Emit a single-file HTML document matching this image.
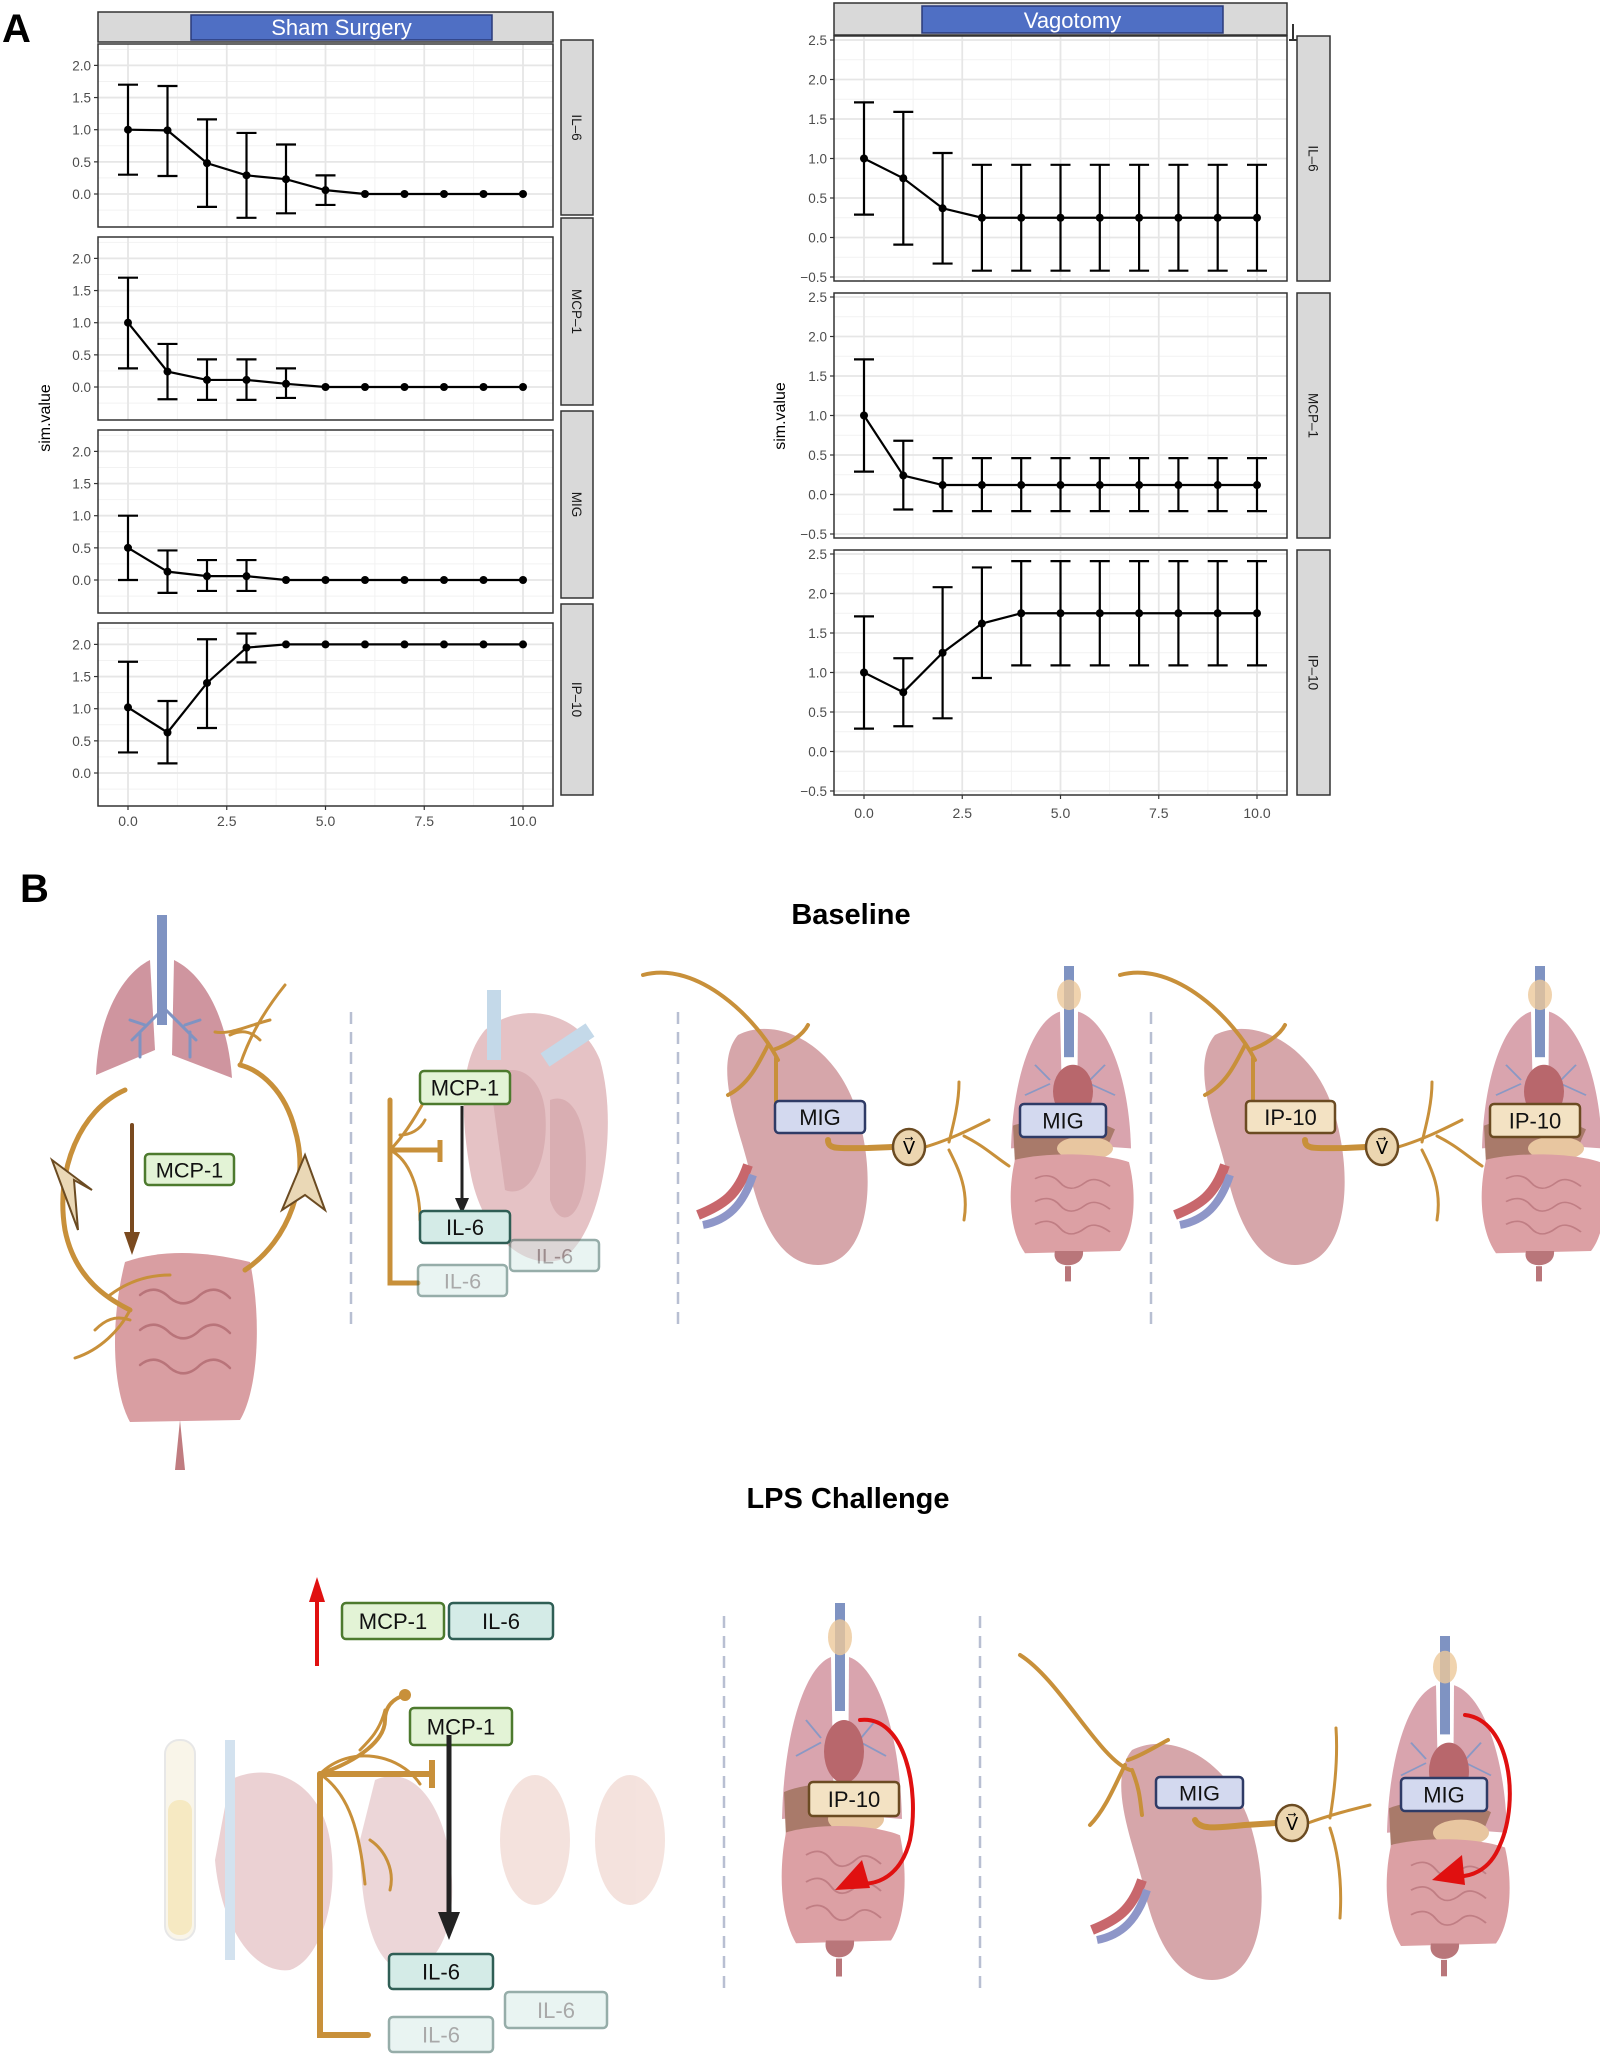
<!DOCTYPE html>
<html><head><meta charset="utf-8">
<style>
html,body{margin:0;padding:0;background:#fff;}
svg{display:block;}
text{font-family:"Liberation Sans",sans-serif;}
</style></head>
<body>
<svg id="s" width="1600" height="2060" viewBox="0 0 1600 2060" xmlns="http://www.w3.org/2000/svg">
<defs>
  <g id="torso">
    <rect x="59" y="0" width="10" height="120" fill="#7f93c2"/>
    <ellipse cx="64" cy="38" rx="12" ry="20" fill="#ecc89a" opacity="0.8"/>
    <path d="M55 60 C30 70 8 140 6 240 L58 235 Z" fill="#d9a4ae"/>
    <path d="M73 60 C100 70 124 140 126 240 L72 235 Z" fill="#d9a4ae"/>
    <path d="M30 130 l15 20 M20 170 l25 -15 M100 130 l-15 20 M110 170 l-25 -15" stroke="#8a98c4" stroke-width="2" fill="none"/>
    <ellipse cx="68" cy="165" rx="20" ry="35" fill="#b8676c"/>
    <path d="M8 210 C40 195 90 200 110 215 L100 245 L10 260 Z" fill="#a97a6a"/>
    <ellipse cx="80" cy="240" rx="28" ry="16" fill="#e8c6a0"/>
    <path d="M10 255 C40 245 95 245 124 258 C132 300 130 350 115 375 L20 378 C5 350 2 300 10 255 Z" fill="#dca0a4"/>
    <path d="M30 280 q15 -10 25 5 q10 15 25 0 q10 -10 25 5 M30 310 q15 -10 25 5 q10 15 25 0 q10 -10 25 5 M30 340 q15 -10 25 5 q10 15 25 0 q10 -10 25 5" stroke="#c07e84" stroke-width="2" fill="none"/>
    <path d="M50 375 C45 400 80 400 78 375 Z" fill="#b9767a"/>
    <rect x="60" y="395" width="6" height="20" fill="#b9767a"/>
  </g>
  <g id="spleen">
    <path d="M20 10 C60 -10 120 20 140 90 C160 160 150 240 100 240 C60 240 40 190 30 140 C20 100 -5 40 20 10 Z" fill="#d6a6aa"/>
    <path d="M30 140 C20 170 5 180 -20 190" stroke="#c8676c" stroke-width="10" fill="none"/>
    <path d="M35 150 C25 180 10 195 -15 200" stroke="#8e96c8" stroke-width="8" fill="none"/>
  </g>
</defs>
<g id="chart"></g>
<g id="diagram"></g>
</svg>
<script>
let out="";
function L(x1,y1,x2,y2,st,w){out+=`<line x1="${x1}" y1="${y1}" x2="${x2}" y2="${y2}" stroke="${st}" stroke-width="${w}"/>`;}
function T(x,y,t,sz,anchor,extra){out+=`<text x="${x}" y="${y}" font-size="${sz}" text-anchor="${anchor||'start'}" ${extra||''}>${t}</text>`;}
function R(x,y,w,h,f,st,sw,extra){out+=`<rect x="${x}" y="${y}" width="${w}" height="${h}" fill="${f}" stroke="${st||'none'}" stroke-width="${sw||0}" ${extra||''}/>`;}

function facet(cfg){
  const {x0,x1,panels,xv0,xs,ticks,yUnit,zeroOff,labels,data,stripX0,stripX1,title,bx0,bx1,tTop,tBot,xlabY,ylab,strips} = cfg;
  R(x0,tTop,x1-x0,tBot-tTop,"#d9d9d9","#333",1.5);
  R(bx0,tTop+3,bx1-bx0,tBot-tTop-5,"#4f6fc4","#2a3a7a",1.5);
  T((bx0+bx1)/2,tBot-7,title,22,"middle",'fill="#fff"');
  panels.forEach((p,i)=>{
    const [T0,B0]=p;
    R(x0,T0,x1-x0,B0-T0,"#fff");
    const yz=T0+zeroOff;
    const ym=v=>yz-v*yUnit;
    for(let v=-0.75;v<=2.75;v+=0.5){const y=ym(v); if(y>T0&&y<B0) L(x0,y,x1,y,"#f2f2f2",1);}
    for(let v=-1.25;v<=11.25;v+=2.5){const x=xv0+v*xs; if(x>x0&&x<x1) L(x,T0,x,B0,"#f2f2f2",1);}
    ticks.forEach(v=>{const y=ym(v); L(x0,y,x1,y,"#e6e6e6",1.8);});
    [0,2.5,5,7.5,10].forEach(v=>{const x=xv0+v*xs; L(x,T0,x,B0,"#e6e6e6",1.8);});
    ticks.forEach(v=>{const y=ym(v); L(x0-4,y,x0,y,"#333",1.2); T(x0-7,y+5,(v<0?"\u22120.5":v.toFixed(1)),13.5,"end",'fill="#4d4d4d"');});
    const d=data[i];
    let pts=d.m.map((v,j)=>[xv0+j*xs,ym(v)]);
    out+=`<polyline points="${pts.map(p=>p.join(',')).join(' ')}" fill="none" stroke="#000" stroke-width="2.2"/>`;
    d.e.forEach((e,j)=>{ if(!e) return; const x=xv0+j*xs; L(x,ym(e[0]),x,ym(e[1]),"#000",2.2); L(x-10,ym(e[0]),x+10,ym(e[0]),"#000",2.2); L(x-10,ym(e[1]),x+10,ym(e[1]),"#000",2.2);});
    pts.forEach(p=>{out+=`<circle cx="${p[0]}" cy="${p[1]}" r="4" fill="#000"/>`;});
    R(x0,T0,x1-x0,B0-T0,"none","#333",1.5);
    const [s0,s1]=strips[i];
    R(stripX0,s0,stripX1-stripX0,s1-s0,"#d9d9d9","#333",1.5);
    const cy=(s0+s1)/2, cx=stripX0+(stripX1-stripX0)/2-5;
    T(cx,cy,labels[i],13.5,"middle",`transform="rotate(90 ${cx} ${cy})" fill="#1a1a1a"`);
  });
  const lb=panels[panels.length-1][1];
  [0,2.5,5,7.5,10].forEach(v=>{const x=xv0+v*xs; L(x,lb,x,lb+4,"#333",1.2); T(x,xlabY,v.toFixed(1),14,"middle",'fill="#4d4d4d"');});
  T(ylab[0],ylab[1],"sim.value",16,"middle",`transform="rotate(-90 ${ylab[0]} ${ylab[1]})"`);
}
const lp=[0,1,2,3].map(i=>[44+i*193,44+i*193+183]);
facet({x0:98,x1:553,tTop:12,tBot:42,bx0:191,bx1:492,title:"Sham Surgery",
 panels:lp,xv0:128,xs:39.5,ticks:[0,0.5,1,1.5,2],yUnit:64.3,zeroOff:150,
 stripX0:561,stripX1:593,strips:[[40,215],[218,405],[411,598],[604,795]],labels:["IL\u20136","MCP\u20131","MIG","IP\u201310"],xlabY:826,ylab:[50,418],
 data:[
  {m:[1,0.99,0.48,0.29,0.23,0.06,0,0,0,0,0],e:[[0.3,1.7],[0.28,1.68],[-0.2,1.16],[-0.37,0.95],[-0.3,0.77],[-0.17,0.29]]},
  {m:[1,0.24,0.11,0.11,0.05,0,0,0,0,0,0],e:[[0.29,1.7],[-0.19,0.67],[-0.2,0.43],[-0.2,0.43],[-0.17,0.29]]},
  {m:[0.5,0.13,0.06,0.06,0,0,0,0,0,0,0],e:[[0,1],[-0.2,0.46],[-0.17,0.31],[-0.17,0.31]]},
  {m:[1.02,0.63,1.4,1.95,2,2,2,2,2,2,2],e:[[0.32,1.73],[0.15,1.12],[0.7,2.08],[1.72,2.17]]}
 ]});
const E1=[.25-.67,.25+.67], E2=[.12-.33,.12+.34], E3=[1.09,2.41];
facet({x0:834,x1:1287,tTop:3,tBot:35,bx0:922,bx1:1223,title:"Vagotomy",
 panels:[[36,281],[293,538],[550,795]],xv0:864,xs:39.3,ticks:[-0.5,0,0.5,1,1.5,2,2.5],yUnit:79,zeroOff:201.5,
 stripX0:1297,stripX1:1330,strips:[[36,281],[293,538],[550,795]],labels:["IL\u20136","MCP\u20131","IP\u201310"],xlabY:818,ylab:[785,416],
 data:[
  {m:[1,0.75,0.37,.25,.25,.25,.25,.25,.25,.25,.25],e:[[0.29,1.71],[-0.09,1.59],[-0.33,1.07],E1,E1,E1,E1,E1,E1,E1,E1]},
  {m:[1,0.24,.12,.12,.12,.12,.12,.12,.12,.12,.12],e:[[0.29,1.71],[-0.19,0.68],E2,E2,E2,E2,E2,E2,E2,E2,E2]},
  {m:[1,0.75,1.25,1.62,1.75,1.75,1.75,1.75,1.75,1.75,1.75],e:[[0.29,1.71],[0.32,1.18],[0.42,2.08],[0.93,2.33],E3,E3,E3,E3,E3,E3,E3]}
 ]});
L(1293,24,1293,40,"#333",2); L(1289,40,1297,40,"#333",2);
T(2,42,"A",40,"start",'font-weight="bold"');
document.getElementById("chart").innerHTML=out;

out="";
const OR="#c8903a";
function P(d,st,w,f,extra){out+=`<path d="${d}" stroke="${st}" stroke-width="${w}" fill="${f||'none'}" stroke-linecap="round" ${extra||''}/>`;}
function box(x1,y1,x2,y2,txt,type,op){
  const c={g:["#e3f3d6","#4d7a2e"],t:["#d4ebe7","#2f5e55"],l:["#d3d9ef","#2f3b66"],y:["#f3e2c3","#6b4b22"]}[type];
  out+=`<g opacity="${op||1}">`;
  R(x1,y1,x2-x1,y2-y1,c[0],c[1],2.5,'rx="4"');
  T((x1+x2)/2,(y1+y2)/2+8,txt,Math.min(22,(y2-y1)*0.7),"middle",`fill="${op&&op<1?'#555':'#111'}"`);
  out+=`</g>`;
}
function vcirc(cx,cy){out+=`<ellipse cx="${cx}" cy="${cy}" rx="16" ry="18" fill="#ecd6b0" stroke="#6b4b22" stroke-width="2.5"/>`;T(cx,cy+7,"V\u20D7",18,"middle");}
function dl(x,y1,y2){out+=`<line x1="${x}" y1="${y1}" x2="${x}" y2="${y2}" stroke="#b8bfd2" stroke-width="2.5" stroke-dasharray="12 8"/>`;}
T(20,902,"B",40,"start",'font-weight="bold"');
T(851,924,"Baseline",29,"middle",'font-weight="bold"');
T(848,1508,"LPS Challenge",29,"middle",'font-weight="bold"');
dl(351,1012,1330); dl(678,1012,1330); dl(1151,1012,1330);
dl(724,1616,1991); dl(980,1616,1991);

out+=`<rect x="157" y="915" width="10" height="110" fill="#7f93c2"/>`;
P("M150 960 C120 975 98 1020 96 1075 L155 1050 Z","none",0,"#cf959f");
P("M174 960 C205 975 228 1020 232 1078 L172 1055 Z","none",0,"#cf959f");
P("M162 1010 l-30 30 M145 1025 l-15 -5 M140 1032 l0 25 M166 1010 l30 30 M185 1025 l15 -5 M190 1032 l0 25","#7f93c2",3);
P("M125 1262 C160 1250 200 1250 250 1262 C262 1320 258 1390 240 1420 L130 1422 C112 1390 110 1320 125 1262 Z","none",0,"#d99ea2");
P("M140 1295 q15 -12 30 3 q15 12 30 -3 q15 -12 30 3 M140 1330 q15 -12 30 3 q15 12 30 -3 q15 -12 30 3 M140 1365 q15 -12 30 3 q15 12 30 -3 q15 -12 30 3","#b9747a",2.5);
P("M180 1420 l-5 50 l10 0 Z","none",0,"#c07c80");
P("M125 1090 C80 1110 55 1170 65 1230 C75 1280 110 1300 130 1310",OR,5);
P("M245 1270 C290 1240 310 1180 295 1130 C285 1090 260 1070 240 1065",OR,5);
out+=`<path d="M52 1160 L92 1190 L74 1180 L78 1230 Z" fill="#ead8b6" stroke="#6b4b22" stroke-width="2"/>`;
out+=`<path d="M325 1210 L305 1155 L282 1210 L305 1195 Z" fill="#ead8b6" stroke="#6b4b22" stroke-width="2"/>`;
P("M132 1125 L132 1235","#7a4a1f",4); out+=`<path d="M124 1232 L140 1232 L132 1255 Z" fill="#7a4a1f"/>`;
box(145,1154,234,1185,"MCP-1","g");
P("M130 1310 c-10 20 -30 40 -55 48 M110 1295 c20 -15 40 -20 60 -20 M95 1330 c10 -10 20 -15 35 -10",OR,3);
P("M240 1065 c10 -30 25 -55 45 -80 M270 1020 c-20 5 -40 15 -55 12 M260 1040 c-10 -10 -20 -10 -30 -5",OR,3);

out+=`<g opacity="0.6"><path d="M485 1030 C520 1000 580 1010 600 1060 C620 1130 600 1240 560 1260 C520 1270 480 1230 470 1170 C460 1110 460 1060 485 1030 Z" fill="#d49a9f"/>
<path d="M490 1080 C510 1060 540 1070 545 1110 C550 1160 530 1200 505 1190 Z M550 1100 C575 1090 590 1130 585 1180 C580 1220 560 1230 550 1200 Z" fill="#c07a80"/>
<rect x="487" y="990" width="14" height="70" fill="#9ec0dc"/><path d="M545 1060 L590 1030" stroke="#9ec0dc" stroke-width="16"/></g>`;
P("M390 1100 L390 1283 L418 1283",OR,5);
P("M390 1150 L440 1150",OR,5); L(440,1140,440,1162,OR,5);
P("M390 1150 c15 -15 30 -40 40 -60 M390 1150 c20 10 30 40 30 70 M400 1135 c10 0 20 -5 25 -15",OR,3);
box(420,1071,510,1104,"MCP-1","g");
L(462,1106,462,1200,"#222",3); out+=`<path d="M455 1198 L469 1198 L462 1214 Z" fill="#222"/>`;
box(420,1211,510,1243,"IL-6","t");
box(510,1240,599,1271,"IL-6","t",0.5);
box(418,1265,507,1296,"IL-6","t",0.5);

function spleenPanel(sx,tx,lab,labType,b1,b2,vc){
  out+=`<use href="#spleen" transform="translate(${sx},1025)"/>`;
  P(`M${sx-75} 975 C${sx-20} 960 ${sx+40} 1020 ${sx+60} 1060 M${sx+50} 1045 c-10 20 -20 40 -40 50 M${sx+55} 1050 c15 -5 30 -15 35 -25 M${sx+58} 1058 c0 20 0 30 0 45`,OR,4);
  out+=`<use href="#torso" transform="translate(${tx},966) scale(1,0.76)"/>`;
  P(`M${sx+110} 1140 c0 10 10 8 40 8 L${vc-16} 1147`,OR,6);
  P(`M${vc+16} 1147 C${vc+40} 1140 ${vc+60} 1130 ${vc+80} 1120 M${vc+40} 1142 c5 -20 10 -40 10 -60 M${vc+40} 1150 c10 20 20 40 15 70 M${vc+55} 1136 c20 10 30 20 45 30`,OR,3);
  vcirc(vc,1147);
  box(b1[0],1101,b1[1],1133,lab,labType);
  box(b2[0],1104,b2[1],1137,lab,labType);
}
spleenPanel(718,1005,"MIG","l",[775,865],[1020,1106],909);
spleenPanel(1195,1476,"IP-10","y",[1246,1335],[1490,1580],1382);

L(317,1600,317,1666,"#e01010",4); out+=`<path d="M309 1602 L325 1602 L317 1577 Z" fill="#e01010"/>`;
box(342,1603,444,1639,"MCP-1","g"); box(449,1603,553,1639,"IL-6","t");
out+=`<g opacity="0.45"><rect x="165" y="1740" width="30" height="200" rx="14" fill="#f3ead0" stroke="#ccc" stroke-width="2"/><rect x="168" y="1800" width="24" height="135" rx="11" fill="#ecd07a"/>
<path d="M230 1780 C270 1760 320 1780 330 1840 C340 1900 320 1960 290 1970 C250 1975 220 1920 215 1860 Z" fill="#d49a9f"/><rect x="225" y="1740" width="10" height="220" fill="#9ec0dc"/>
<path d="M375 1780 C420 1760 450 1820 452 1880 C455 1940 430 1975 400 1970 C370 1960 360 1900 360 1840 Z" fill="#d6a6aa"/>
<ellipse cx="535" cy="1840" rx="35" ry="65" fill="#e8c0b6"/><ellipse cx="630" cy="1840" rx="35" ry="65" fill="#e8c0b6"/></g>`;
P("M320 1774 L320 2035 L368 2035",OR,6);
P("M320 1774 L430 1774",OR,6); L(432,1760,432,1788,OR,6);
P("M320 1774 C360 1760 385 1740 385 1720 C385 1705 395 1698 405 1695",OR,4);
P("M320 1774 c30 -30 80 -20 100 10 M320 1774 c30 20 40 60 45 110 M370 1840 c15 10 25 30 20 50 M360 1750 c10 -10 20 -20 25 -40",OR,3);
out+=`<circle cx="405" cy="1695" r="6" fill="${OR}"/>`;
box(410,1708,512,1745,"MCP-1","g");
L(449,1735,449,1920,"#222",5); out+=`<path d="M438 1912 L460 1912 L449 1940 Z" fill="#222"/>`;
box(389,1954,493,1989,"IL-6","t");
box(505,1992,607,2028,"IL-6","t",0.5);
box(389,2017,493,2052,"IL-6","t",0.5);

out+=`<use href="#torso" transform="translate(776,1603) scale(1,0.9)"/>`;
P("M860 1720 C905 1715 920 1790 910 1840 C900 1880 870 1890 848 1880","#e01010",4);
out+=`<path d="M835 1890 L862 1860 L870 1888 Z" fill="#e01010"/>`;
box(809,1782,899,1816,"IP-10","y");
out+=`<use href="#spleen" transform="translate(1112,1740)"/>`;
P("M1020 1655 C1060 1680 1100 1760 1130 1770 M1125 1765 c-10 20 -20 45 -35 60 M1128 1760 c15 -5 30 -15 40 -20 M1132 1770 c8 20 8 30 10 45",OR,4);
out+=`<use href="#torso" transform="translate(1381,1636) scale(1,0.82)"/>`;
P("M1195 1820 c5 10 20 8 50 5 L1276 1823",OR,6);
P("M1308 1823 C1330 1815 1350 1810 1370 1805 M1330 1818 c5 -30 8 -60 6 -90 M1330 1828 c10 30 12 60 10 90",OR,3);
vcirc(1292,1823);
P("M1465 1715 C1510 1720 1520 1800 1500 1845 C1490 1870 1470 1880 1448 1875","#e01010",4);
out+=`<path d="M1432 1880 L1462 1855 L1465 1885 Z" fill="#e01010"/>`;
box(1156,1777,1243,1808,"MIG","l");
box(1401,1778,1487,1811,"MIG","l");

document.getElementById("diagram").innerHTML=out;
</script>
</body></html>
